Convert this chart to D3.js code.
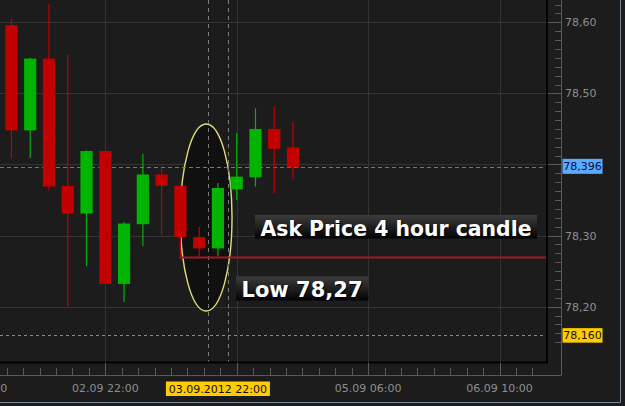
<!DOCTYPE html>
<html><head><meta charset="utf-8">
<script src="https://cdn.jsdelivr.net/npm/d3@7"></script>
<style>
html,body{margin:0;padding:0;background:#1b1b1b;overflow:hidden}
svg{display:block}
</style></head>
<body>
<svg id="c" width="625" height="406"></svg>
<script>
// ---- data (4-hour ask candles, USD/JPY style) ----
const candleTimes = ["02.09.2012 02:00","02.09.2012 06:00","02.09.2012 10:00","02.09.2012 14:00","02.09.2012 18:00","02.09.2012 22:00","03.09.2012 02:00","03.09.2012 06:00","03.09.2012 10:00","03.09.2012 14:00","03.09.2012 18:00","03.09.2012 22:00","04.09.2012 02:00","04.09.2012 06:00","04.09.2012 10:00","04.09.2012 14:00"];
const openP  = [78.596,78.448,78.549,78.370,78.331,78.419,78.232,78.316,78.386,78.370,78.298,78.282,78.365,78.382,78.450,78.424];
const highP  = [78.605,78.550,78.626,78.554,78.420,78.420,78.319,78.415,78.395,78.371,78.312,78.374,78.444,78.479,78.482,78.460];
const lowP   = [78.409,78.409,78.363,78.200,78.257,78.232,78.207,78.285,78.301,78.270,78.270,78.271,78.350,78.369,78.360,78.379];
const closeP = [78.448,78.549,78.369,78.331,78.419,78.232,78.317,78.386,78.370,78.298,78.282,78.367,78.383,78.450,78.422,78.396];
const xTickTimes = ["01.09.2012 18:00","02.09.2012 22:00","04.09.2012 02:00","05.09.2012 06:00","06.09.2012 10:00"];
const xTickLabels = ["01.09 18:00","02.09 22:00","","05.09 06:00","06.09 10:00"];
const yTicks = [78.20,78.30,78.40,78.50,78.60];
const yTickLabels = ["78,20","78,30","","78,50","78,60"];
const bidPrice = 78.396, bidLabel = "78,396";
const refPrice = 78.160, refLabel = "78,160";
const lowPrice = 78.27;
const crossTime = "03.09.2012 22:00", crossLabel = "03.09.2012 22:00";
const annotations = ["Ask Price 4 hour candle","Low 78,27"];

// ---- layout ----
const W = 625, H = 406;
const plotR = 547, plotB = 362.5, axisX = 561.5, axisY = 375;
const parse = d3.timeParse("%d.%m.%Y %H:%M");
const svg = d3.select("#c");

const x = d3.scaleTime()
  .domain([parse("02.09.2012 22:00"), parse("06.09.2012 10:00")])
  .range([105.3, 499.5]);
const y = d3.scaleLinear().domain([78.20, 78.60]).range([306.7, 22.3]);

const candles = candleTimes.map((t,i)=>({t:parse(t),o:openP[i],h:highP[i],l:lowP[i],c:closeP[i]}));
const step = x(d3.timeHour.offset(candles[0].t,4)) - x(candles[0].t);
const bodyW = 12.2;

// background
svg.append("rect").attr("width",W).attr("height",H).attr("fill","#1c1c1c");

// grid
const g = svg.append("g");
g.selectAll(".vg").data(xTickTimes).join("line")
  .attr("x1",d=>Math.round(x(parse(d)))+0.5).attr("x2",d=>Math.round(x(parse(d)))+0.5)
  .attr("y1",0).attr("y2",plotB).attr("stroke","#343434").attr("stroke-width",1);
g.selectAll(".hg").data(yTicks).join("line")
  .attr("x1",0).attr("x2",plotR).attr("y1",d=>Math.round(y(d))+0.5).attr("y2",d=>Math.round(y(d))+0.5)
  .attr("stroke","#343434").attr("stroke-width",1);

// ellipse highlight
const eT0 = d3.timeHour.offset(parse(crossTime),-7.8), eT1 = d3.timeHour.offset(parse(crossTime),3.8);
const eHi = 78.457, eLo = 78.194;
svg.append("ellipse")
  .attr("cx",(x(eT0)+x(eT1))/2).attr("cy",(y(eHi)+y(eLo))/2)
  .attr("rx",(x(eT1)-x(eT0))/2).attr("ry",(y(eLo)-y(eHi))/2)
  .attr("fill","#101010").attr("stroke","#dede78").attr("stroke-width",1.4);

// crosshair dashed verticals
const cx = x(parse(crossTime));
[cx-step/2-0.3, cx+step/2+0.3].forEach(v=>{
  svg.append("line").attr("x1",Math.round(v)+0.5).attr("x2",Math.round(v)+0.5)
    .attr("y1",0).attr("y2",plotB).attr("stroke","#7a7a7a").attr("stroke-dasharray","4,4");
});

// price lines
svg.append("line").attr("x1",0).attr("x2",plotR).attr("y1",Math.round(y(bidPrice))+0.5).attr("y2",Math.round(y(bidPrice))+0.5)
  .attr("stroke","#4b7fb8").attr("stroke-width",1.2).attr("stroke-dasharray","4,3");
svg.append("line").attr("x1",0).attr("x2",plotR).attr("y1",Math.round(y(refPrice))+0.5).attr("y2",Math.round(y(refPrice))+0.5)
  .attr("stroke","#8a8a8a").attr("stroke-dasharray","3,3");

// candles
const cg = svg.append("g");
const col = d => d.c >= d.o ? "#00b400" : "#c20000";
cg.selectAll(".wick").data(candles).join("line")
  .attr("x1",d=>x(d.t)).attr("x2",d=>x(d.t)).attr("y1",d=>y(d.h)).attr("y2",d=>y(d.l))
  .attr("stroke",col).attr("stroke-width",1.2);
cg.selectAll(".body").data(candles).join("rect")
  .attr("x",d=>x(d.t)-bodyW/2).attr("width",bodyW)
  .attr("y",d=>y(Math.max(d.o,d.c))).attr("height",d=>Math.max(1,Math.abs(y(d.o)-y(d.c))))
  .attr("fill",col);

// low line (from the low candle to the right edge)
const lowCandle = candles[9];
svg.append("line").attr("x1",x(lowCandle.t)-1).attr("x2",plotR).attr("y1",y(lowPrice)+0.5).attr("y2",y(lowPrice)+0.5)
  .attr("stroke","#a81818").attr("stroke-width",2);

// plot borders
svg.append("line").attr("x1",plotR).attr("x2",plotR).attr("y1",0).attr("y2",plotB+1).attr("stroke","#000").attr("stroke-width",2);
svg.append("line").attr("x1",0).attr("x2",plotR+1).attr("y1",plotB).attr("y2",plotB).attr("stroke","#000").attr("stroke-width",2);

// axis lines
svg.append("line").attr("x1",axisX).attr("x2",axisX).attr("y1",0).attr("y2",axisY).attr("stroke","#5a5a5a");
svg.append("line").attr("x1",0).attr("x2",axisX).attr("y1",axisY+0.5).attr("y2",axisY+0.5).attr("stroke","#5a5a5a");

// right axis ticks
const yMinor = d3.range(78.15, 78.70, 0.0125).filter(v=>y(v)>-2 && y(v)<axisY);
svg.append("g").selectAll("line").data(yMinor).join("line")
  .attr("x1",d=>{const m=Math.abs((d*10)-Math.round(d*10))<1e-6;return m?plotR+1:555;})
  .attr("x2",axisX).attr("y1",d=>Math.round(y(d))+0.5).attr("y2",d=>Math.round(y(d))+0.5)
  .attr("stroke","#5a5a5a");
svg.append("g").selectAll("text").data(yTicks).join("text")
  .attr("x",565).attr("y",d=>y(d)+4).text((d,i)=>yTickLabels[i])
  .attr("fill","#8e8e8e").attr("font-family","DejaVu Sans, Verdana, sans-serif").attr("font-size",11);

// bottom axis ticks
const tMin = parse("01.09.2012 18:00");
const xMinor = d3.range(0,40).map(i=>d3.timeMinute.offset(tMin,i*210)).filter(t=>x(t)>=0 && x(t)<plotR);
svg.append("g").selectAll("line").data(xMinor).join("line")
  .attr("x1",d=>Math.round(x(d))+0.5).attr("x2",d=>Math.round(x(d))+0.5)
  .attr("y1",(d,i)=> (Math.round((+d - +tMin)/36e5)%28===0) ? plotB : 368).attr("y2",axisY)
  .attr("stroke","#5a5a5a");
svg.append("g").selectAll("text").data(xTickTimes).join("text")
  .attr("x",d=>x(parse(d))).attr("y",392).attr("text-anchor","middle").text((d,i)=>xTickLabels[i])
  .attr("fill","#8e8e8e").attr("font-family","DejaVu Sans, Verdana, sans-serif").attr("font-size",11);

// value labels
function tag(xx,yy,w,h,fill,txt,tcol){
  svg.append("rect").attr("x",xx).attr("y",yy).attr("width",w).attr("height",h).attr("fill",fill);
  svg.append("text").attr("x",xx+w/2).attr("y",yy+h/2+4).attr("text-anchor","middle").text(txt)
    .attr("fill",tcol).attr("font-family","DejaVu Sans, Verdana, sans-serif").attr("font-size",11);
}
tag(562.5, y(bidPrice)-8.5, 40, 15, "#5aabff", bidLabel, "#001040");
tag(562.5, y(refPrice)-7, 40, 14.5, "#ffcc00", refLabel, "#111");
tag(cx-52, 381.5, 104, 14.5, "#ffcc00", crossLabel, "#111");

// annotation boxes
const defs = svg.append("defs");
const gr = defs.append("linearGradient").attr("id","bx").attr("x1",0).attr("y1",0).attr("x2",0).attr("y2",1);
gr.append("stop").attr("offset","0%").attr("stop-color","#3c3c3c");
gr.append("stop").attr("offset","100%").attr("stop-color","#020202");
function note(bx,by,bw,bh,txt,tx,ty,tw){
  svg.append("rect").attr("x",bx).attr("y",by).attr("width",bw).attr("height",bh).attr("fill","url(#bx)");
  svg.append("text").attr("x",tx+1).attr("y",ty+1).text(txt).attr("fill","#000")
    .attr("font-family","DejaVu Sans, Verdana, sans-serif").attr("font-weight","bold").attr("font-size",20.4)
    .attr("textLength",tw).attr("lengthAdjust","spacingAndGlyphs");
  svg.append("text").attr("x",tx).attr("y",ty).text(txt).attr("fill","#ffffff")
    .attr("font-family","DejaVu Sans, Verdana, sans-serif").attr("font-weight","bold").attr("font-size",20.4)
    .attr("textLength",tw).attr("lengthAdjust","spacingAndGlyphs");
}
note(255, 215, 282, 23.5, annotations[0], 260.5, 235.5, 271);
note(236, 276.5, 132.5, 24, annotations[1], 241.5, 296.8, 121);

// outer frame
svg.append("line").attr("x1",0).attr("x2",620.5).attr("y1",402.5).attr("y2",402.5).attr("stroke","#7c8796");
svg.append("line").attr("x1",620.5).attr("x2",620.5).attr("y1",0).attr("y2",402.5).attr("stroke","#7c8796");
</script>
</body></html>
